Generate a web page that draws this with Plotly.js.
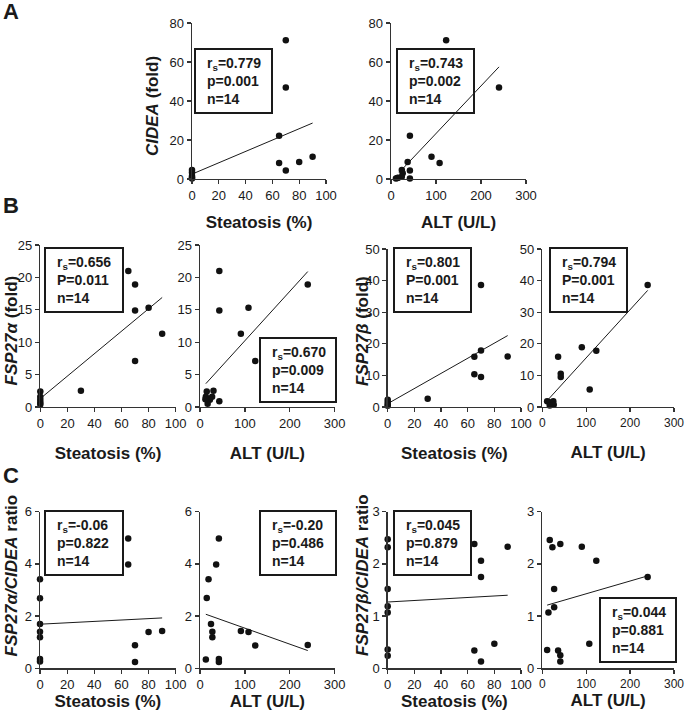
<!DOCTYPE html>
<html><head><meta charset="utf-8">
<script src="https://cdn.plot.ly/plotly-3.0.1.min.js"></script>
<style>html,body{margin:0;padding:0;background:#fff}#chart{width:685px;height:721px}</style>
</head><body><div id="chart"></div>
<script>
// ---------- data ----------
const steatosisTicks = [0, 20, 40, 60, 80, 100];
const altTicks = [0, 100, 200, 300];

// Panel A: CIDEA (fold)
const a1Steatosis = [70, 70, 65, 65, 70, 80, 90, 0, 0, 0, 0, 0];
const a1Cidea     = [71.2, 46.9, 22.2, 8.2, 4.4, 8.7, 11.4, 4.6, 3.3, 1.5, 0.8, 0.2];
const a1FitX = [0, 90];
const a1FitY = [2.5, 28.7];
const a2Alt   = [122.5, 240, 42, 90, 108, 37, 42, 42, 24, 26, 24, 16, 11, 14];
const a2Cidea = [71.2, 46.9, 22.2, 11.4, 8.2, 8.7, 4.4, 0.2, 4.6, 2.9, 1.2, 0.7, 0.3, 0.5];
const a2FitX = [18, 240];
const a2FitY = [3.3, 57.5];

// Panel B: FSP27alpha / FSP27beta (fold)
const b1Steatosis = [65, 70, 70, 80, 90, 70, 30, 0, 0, 0, 0, 0];
const b1Fsp27a    = [21.0, 18.9, 14.9, 15.3, 11.3, 7.1, 2.5, 2.4, 1.6, 1.1, 0.7, 0.4];
const b1FitX = [0, 90];
const b1FitY = [1.3, 16.9];
const b2Alt     = [43, 43, 108, 91, 123, 240, 43, 15, 30, 13, 22, 27, 17, 12];
const b2Fsp27a  = [21.0, 14.9, 15.3, 11.3, 7.1, 18.9, 0.9, 2.4, 2.5, 1.6, 1.1, 1.6, 0.5, 1.2];
const b2FitX = [13, 240];
const b2FitY = [3.6, 20.9];
const b3Steatosis = [70, 70, 65, 90, 65, 70, 30, 0, 0, 0, 0];
const b3Fsp27b    = [38.6, 17.9, 15.9, 16.0, 10.4, 9.5, 2.6, 2.3, 1.5, 0.7, 0.4];
const b3FitX = [0, 90];
const b3FitY = [1.05, 22.6];
const b4Alt    = [240, 36, 90, 123, 42, 42, 108, 11, 16, 21, 25, 26, 17];
const b4Fsp27b = [38.6, 15.9, 18.9, 17.8, 10.5, 9.5, 5.5, 1.8, 1.5, 0.9, 1.8, 0.7, 0.5];
const b4FitX = [11, 240];
const b4FitY = [2.0, 36.9];

// Panel C: ratios
const c1Steatosis = [65, 65, 70, 70, 80, 90, 0, 0, 0, 0, 0, 0, 0];
const c1RatioA    = [4.97, 3.98, 0.88, 0.24, 1.39, 1.43, 3.41, 2.68, 1.70, 1.40, 1.19, 0.36, 0.26];
const c1FitX = [0, 90];
const c1FitY = [1.69, 1.93];
const c2Alt    = [42, 36, 19, 15, 24.5, 27.5, 27.5, 91, 108, 123, 240, 13, 42, 42];
const c2RatioA = [4.97, 3.98, 3.41, 2.69, 1.70, 1.40, 1.19, 1.43, 1.39, 0.87, 0.89, 0.34, 0.36, 0.24];
const c2FitX = [13, 240];
const c2FitY = [2.07, 0.68];
const c3Steatosis = [65, 90, 70, 70, 80, 65, 70, 0, 0, 0, 0, 0, 0, 0];
const c3RatioB    = [2.38, 2.33, 2.06, 1.75, 0.47, 0.34, 0.13, 2.47, 2.32, 1.52, 1.19, 1.07, 0.36, 0.24];
const c3FitX = [0, 90];
const c3FitY = [1.27, 1.40];
const c4Alt    = [17, 23, 41, 90, 123, 240, 27, 27, 14, 107, 11, 36, 41, 41];
const c4RatioB = [2.46, 2.32, 2.38, 2.33, 2.06, 1.75, 1.52, 1.17, 1.07, 0.47, 0.35, 0.34, 0.25, 0.13];
const c4FitX = [11, 240];
const c4FitY = [1.21, 1.77];

// Statistics text
const statsA1 = 'r<sub>s</sub>=0.779<br>p=0.001<br>n=14';
const statsA2 = 'r<sub>s</sub>=0.743<br>p=0.002<br>n=14';
const statsB1 = 'r<sub>s</sub>=0.656<br>P=0.011<br>n=14';
const statsB2 = 'r<sub>s</sub>=0.670<br>p=0.009<br>n=14';
const statsB3 = 'r<sub>s</sub>=0.801<br>P=0.001<br>n=14';
const statsB4 = 'r<sub>s</sub>=0.794<br>P=0.001<br>n=14';
const statsC1 = 'r<sub>s</sub>=-0.06<br>p=0.822<br>n=14';
const statsC2 = 'r<sub>s</sub>=-0.20<br>p=0.486<br>n=14';
const statsC3 = 'r<sub>s</sub>=0.045<br>p=0.879<br>n=14';
const statsC4 = 'r<sub>s</sub>=0.044<br>p=0.881<br>n=14';

// ---------- layout helpers ----------
const W = 685, H = 721;
const INK = '#1a1a1a';
const TICKFONT = {family: '"Liberation Sans",Arial,sans-serif', size: 13, color: INK};
const TICKFONT_EDGE = {family: '"Liberation Sans",Arial,sans-serif', size: 12, color: INK};
const TITLEFONT = {family: '"Liberation Sans",Arial,sans-serif', size: 17, color: INK};
const STATFONT = {family: '"Liberation Sans",Arial,sans-serif', size: 14, color: INK};

const panels = [
  {x: a1Steatosis, y: a1Cidea, fx: a1FitX, fy: a1FitY, px: [192, 326], py: [23, 179], xr: [0, 100], xt: steatosisTicks, yr: [0, 80], yt: [0, 20, 40, 60, 80],
   xtitle: 'Steatosis (%)', ytitle: '<i>CIDEA</i> (fold)', xs: 14, yt_pos: [153, 106], box: [195, 272, 49, 113], stats: statsA1},
  {x: a2Alt, y: a2Cidea, fx: a2FitX, fy: a2FitY, px: [391, 526], py: [23, 179], xr: [0, 300], xt: altTicks, yr: [0, 80], yt: [0, 20, 40, 60, 80],
   xtitle: 'ALT (U/L)', ytitle: '', xs: 14, box: [397, 474, 49, 113], stats: statsA2},
  {x: b1Steatosis, y: b1Fsp27a, fx: b1FitX, fy: b1FitY, px: [40.3, 175.7], py: [245, 407], xr: [0, 100], xt: steatosisTicks, yr: [0, 25], yt: [0, 5, 10, 15, 20, 25],
   xtitle: 'Steatosis (%)', ytitle: '<i>FSP27α</i> (fold)', xs: 17, yt_pos: [10.5, 331], box: [45, 123, 248, 312], stats: statsB1},
  {x: b2Alt, y: b2Fsp27a, fx: b2FitX, fy: b2FitY, px: [200, 334.7], py: [245, 407], xr: [0, 300], xt: altTicks, yr: [0, 25], yt: [0, 5, 10, 15, 20, 25],
   xtitle: 'ALT (U/L)', ytitle: '', xs: 17, box: [260, 336, 338, 402], stats: statsB2},
  {x: b3Steatosis, y: b3Fsp27b, fx: b3FitX, fy: b3FitY, px: [387.7, 521], py: [249, 407], xr: [0, 100], xt: steatosisTicks, yr: [0, 50], yt: [0, 10, 20, 30, 40, 50],
   xtitle: 'Steatosis (%)', ytitle: '<i>FSP27β</i> (fold)', xs: 17, yt_pos: [362, 331], box: [394, 471, 248, 312], stats: statsB3},
  {x: b4Alt, y: b4Fsp27b, fx: b4FitX, fy: b4FitY, px: [542.3, 674], py: [249, 407], xr: [0, 300], xt: altTicks, yr: [0, 50], yt: [0, 10, 20, 30, 40, 50],
   xtitle: 'ALT (U/L)', ytitle: '', xs: 17, edge: true, box: [550, 627, 248, 312], stats: statsB4},
  {x: c1Steatosis, y: c1RatioA, fx: c1FitX, fy: c1FitY, px: [40, 175.7], py: [511.7, 668.3], xr: [0, 100], xt: steatosisTicks, yr: [0, 6], yt: [0, 2, 4, 6],
   xtitle: 'Steatosis (%)', ytitle: '<i>FSP27α/CIDEA</i> ratio', xs: 0, yt_pos: [10.5, 576], box: [45, 123, 511, 575], stats: statsC1},
  {x: c2Alt, y: c2RatioA, fx: c2FitX, fy: c2FitY, px: [200, 334.7], py: [511.7, 668.3], xr: [0, 300], xt: altTicks, yr: [0, 6], yt: [0, 2, 4, 6],
   xtitle: 'ALT (U/L)', ytitle: '', xs: 0, box: [260, 336, 511, 575], stats: statsC2},
  {x: c3Steatosis, y: c3RatioB, fx: c3FitX, fy: c3FitY, px: [387.7, 521], py: [511.7, 668.3], xr: [0, 100], xt: steatosisTicks, yr: [0, 3], yt: [0, 1, 2, 3],
   xtitle: 'Steatosis (%)', ytitle: '<i>FSP27β/CIDEA</i> ratio', xs: 0, yt_pos: [362, 575], box: [394, 471, 511, 575], stats: statsC3},
  {x: c4Alt, y: c4RatioB, fx: c4FitX, fy: c4FitY, px: [542.3, 674], py: [511.7, 668.3], xr: [0, 300], xt: altTicks, yr: [0, 3], yt: [0, 1, 2, 3],
   xtitle: 'ALT (U/L)', ytitle: '', xs: 0, edge: true, box: [600, 676, 598, 662], stats: statsC4}
];

const px2x = v => v / W;
const px2y = v => 1 - v / H;

const traces = [];
const layout = {
  width: W, height: H,
  margin: {l: 0, r: 0, t: 0, b: 0},
  paper_bgcolor: '#fff', plot_bgcolor: 'rgba(0,0,0,0)',
  showlegend: false,
  shapes: [], annotations: []
};

panels.forEach((p, i) => {
  const n = i + 1;
  const xa = 'x' + (n === 1 ? '' : n), ya = 'y' + (n === 1 ? '' : n);
  const xk = 'xaxis' + (n === 1 ? '' : n), yk = 'yaxis' + (n === 1 ? '' : n);
  traces.push({type: 'scatter', mode: 'lines', x: p.fx, y: p.fy, xaxis: xa, yaxis: ya,
    line: {color: INK, width: 1}, hoverinfo: 'skip', cliponaxis: false});
  traces.push({type: 'scatter', mode: 'markers', x: p.x, y: p.y, xaxis: xa, yaxis: ya,
    marker: {color: '#111', size: 6.5, line: {width: 0}}, cliponaxis: false});
  const axCommon = {showgrid: false, zeroline: false, showline: true, linecolor: '#333', linewidth: 1.4,
    ticks: 'outside', ticklen: 4, tickwidth: 1.2, tickcolor: '#333', tickfont: TICKFONT, fixedrange: true,
    ticklabeloverflow: 'allow'};
  layout[xk] = Object.assign({}, axCommon, {
    domain: [px2x(p.px[0]), px2x(p.px[1])], anchor: ya, range: p.xr, tickmode: 'array', tickvals: p.xt,
    tickfont: p.edge ? TICKFONT_EDGE : TICKFONT,
    title: {text: '<b>' + p.xtitle + '</b>', font: TITLEFONT, standoff: p.xs}
  });
  layout[yk] = Object.assign({}, axCommon, {
    domain: [px2y(p.py[1]), px2y(p.py[0])], anchor: xa, range: p.yr, tickmode: 'array', tickvals: p.yt
  });
  if (p.ytitle) {
    layout.annotations.push({xref: 'paper', yref: 'paper', x: px2x(p.yt_pos[0]), y: px2y(p.yt_pos[1]),
      xanchor: 'center', yanchor: 'middle', textangle: -90, showarrow: false,
      text: '<b>' + p.ytitle + '</b>', font: TITLEFONT});
  }
  const b = p.box;
  layout.shapes.push({type: 'rect', xref: 'paper', yref: 'paper',
    x0: px2x(b[0]), x1: px2x(b[1]), y0: px2y(b[3]), y1: px2y(b[2]),
    line: {color: INK, width: 2}, fillcolor: 'rgba(255,255,255,0)'});
  layout.annotations.push({xref: 'paper', yref: 'paper', x: px2x(b[0] + 10), y: px2y((b[2] + b[3]) / 2),
    xanchor: 'left', yanchor: 'middle', align: 'left', showarrow: false,
    text: '<b>' + p.stats + '</b>', font: STATFONT});
});

// panel letters
[['A', 12], ['B', 205], ['C', 475]].forEach(([t, y]) => {
  layout.annotations.push({xref: 'paper', yref: 'paper', x: px2x(1), y: px2y(y), xanchor: 'left', yanchor: 'middle',
    showarrow: false, text: '<b>' + t + '</b>', font: {family: '"Liberation Sans",Arial,sans-serif', size: 22, color: INK}});
});

Plotly.newPlot('chart', traces, layout, {staticPlot: true, displayModeBar: false});
</script>
</body></html>
